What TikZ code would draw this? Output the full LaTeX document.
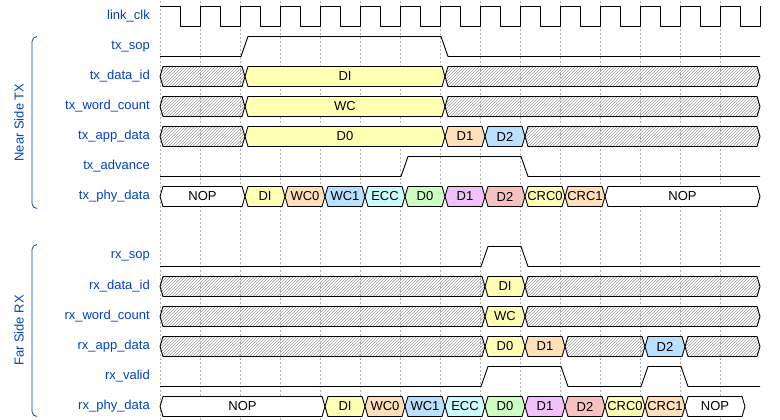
\documentclass[tikz,border=0pt]{standalone}
\usepackage{fontspec}
\setmainfont{Liberation Sans}
\usetikzlibrary{patterns}
\definecolor{lblue}{HTML}{0041C4}
\definecolor{cy}{HTML}{FFFFB4}
\definecolor{co}{HTML}{FFE0B9}
\definecolor{cb}{HTML}{B9E0FF}
\definecolor{cc}{HTML}{CCFDFE}
\definecolor{cg}{HTML}{CDFDC5}
\definecolor{cp}{HTML}{F0C1FB}
\definecolor{cr}{HTML}{F5C2C0}
\newcommand\seg[5]{%
 \path[#4] (#1+3,#3) -- (#1+6,#3-10) -- (#2,#3-10) -- (#2+3,#3) -- (#2,#3+10) -- (#1+6,#3+10) -- cycle;
 \draw[wave] (#1+3,#3) -- (#1+6,#3-10) -- (#2,#3-10) -- (#2+3,#3) -- (#2,#3+10) -- (#1+6,#3+10) -- cycle;
 \node[val] (v#1x#3) at ({(#1+#2)/2+3},#3) {#5};}
\tikzset{wave/.style={line width=0.9pt,line join=round},
 val/.style={font=\fontsize{13}{15}\selectfont,inner sep=0},
 hat/.style={pattern=north east lines,pattern color=gray!80},
 lbl/.style={font=\fontsize{13}{15}\selectfont,text=lblue,anchor=east,inner sep=0},
 grid/.style={gray!60,dashed,line width=0.5pt,dash pattern=on 2pt off 2pt}}
\begin{document}
\begin{tikzpicture}[x=1pt,y=-1pt]
\useasboundingbox (0,0) rectangle (780,420);
\begin{scope}[yshift=-1.5pt]
\foreach \x in {160,200,...,720} \draw[grid] (\x,0) -- (\x,420);
% labels
\foreach \n/\y in {link\_clk/15,tx\_sop/45,tx\_data\_id/75,tx\_word\_count/105,tx\_app\_data/135,tx\_advance/165,tx\_phy\_data/195,rx\_sop/255,rx\_data\_id/285,rx\_word\_count/315,rx\_app\_data/345,rx\_valid/375,rx\_phy\_data/405}
 \node[lbl] (L\y) at (150,\y) {\n};
% groups
\draw[lblue,line width=0.8pt] (37,35) to[out=180,in=90] (32,40) -- (32,202) to[out=-90,in=180] (37,207);
\node[lblue,rotate=90,font=\fontsize{13}{15}\selectfont] (g1) at (19,121) {Near Side TX};
\draw[lblue,line width=0.8pt] (37,243) to[out=180,in=90] (32,248) -- (32,410) to[out=-90,in=180] (37,415);
\node[lblue,rotate=90,font=\fontsize{13}{15}\selectfont] (g2) at (19,329) {Far Side RX};
% clock
\foreach \x in {160,200,...,720} \draw[wave] (\x,5) -- (\x+20,5) -- (\x+20,25) -- (\x+40,25) -- (\x+40,5);
% tx_sop
\draw[wave] (160,55) -- (241,55) -- (248,35) -- (441,35) -- (448,55) -- (760,55);
% tx_data_id / word count / app data
\seg{157}{242}{75}{hat}{}\seg{242}{442}{75}{fill=cy}{DI}\seg{442}{757}{75}{hat}{}
\seg{157}{242}{105}{hat}{}\seg{242}{442}{105}{fill=cy}{WC}\seg{442}{757}{105}{hat}{}
\seg{157}{242}{135}{hat}{}\seg{242}{442}{135}{fill=cy}{D0}\seg{442}{482}{135}{fill=co}{D1}\seg{482}{522}{135}{fill=cb}{D2}\seg{522}{757}{135}{hat}{}
% tx_advance
\draw[wave] (160,175) -- (401,175) -- (408,155) -- (521,155) -- (528,175) -- (760,175);
% tx_phy_data
\seg{157}{242}{195}{fill=white}{NOP}\seg{242}{282}{195}{fill=cy}{DI}\seg{282}{322}{195}{fill=co}{WC0}\seg{322}{362}{195}{fill=cb}{WC1}\seg{362}{402}{195}{fill=cc}{ECC}\seg{402}{442}{195}{fill=cg}{D0}\seg{442}{482}{195}{fill=cp}{D1}\seg{482}{522}{195}{fill=cr}{D2}\seg{522}{562}{195}{fill=cy}{CRC0}\seg{562}{602}{195}{fill=co}{CRC1}\seg{602}{757}{195}{fill=white}{NOP}
% rx_sop
\draw[wave] (160,265) -- (481,265) -- (488,245) -- (521,245) -- (528,265) -- (760,265);
\seg{157}{482}{285}{hat}{}\seg{482}{522}{285}{fill=cy}{DI}\seg{522}{757}{285}{hat}{}
\seg{157}{482}{315}{hat}{}\seg{482}{522}{315}{fill=cy}{WC}\seg{522}{757}{315}{hat}{}
\seg{157}{482}{345}{hat}{}\seg{482}{522}{345}{fill=cy}{D0}\seg{522}{562}{345}{fill=co}{D1}\seg{562}{642}{345}{hat}{}\seg{642}{682}{345}{fill=cb}{D2}\seg{682}{757}{345}{hat}{}
% rx_valid
\draw[wave] (160,385) -- (481,385) -- (488,365) -- (561,365) -- (568,385) -- (641,385) -- (648,365) -- (681,365) -- (688,385) -- (760,385);
% rx_phy_data
\seg{157}{322}{405}{fill=white}{NOP}\seg{322}{362}{405}{fill=cy}{DI}\seg{362}{402}{405}{fill=co}{WC0}\seg{402}{442}{405}{fill=cb}{WC1}\seg{442}{482}{405}{fill=cc}{ECC}\seg{482}{522}{405}{fill=cg}{D0}\seg{522}{562}{405}{fill=cp}{D1}\seg{562}{602}{405}{fill=cr}{D2}\seg{602}{642}{405}{fill=cy}{CRC0}\seg{642}{682}{405}{fill=co}{CRC1}\seg{682}{742}{405}{fill=white}{NOP}
\end{scope}
\end{tikzpicture}
\end{document}
